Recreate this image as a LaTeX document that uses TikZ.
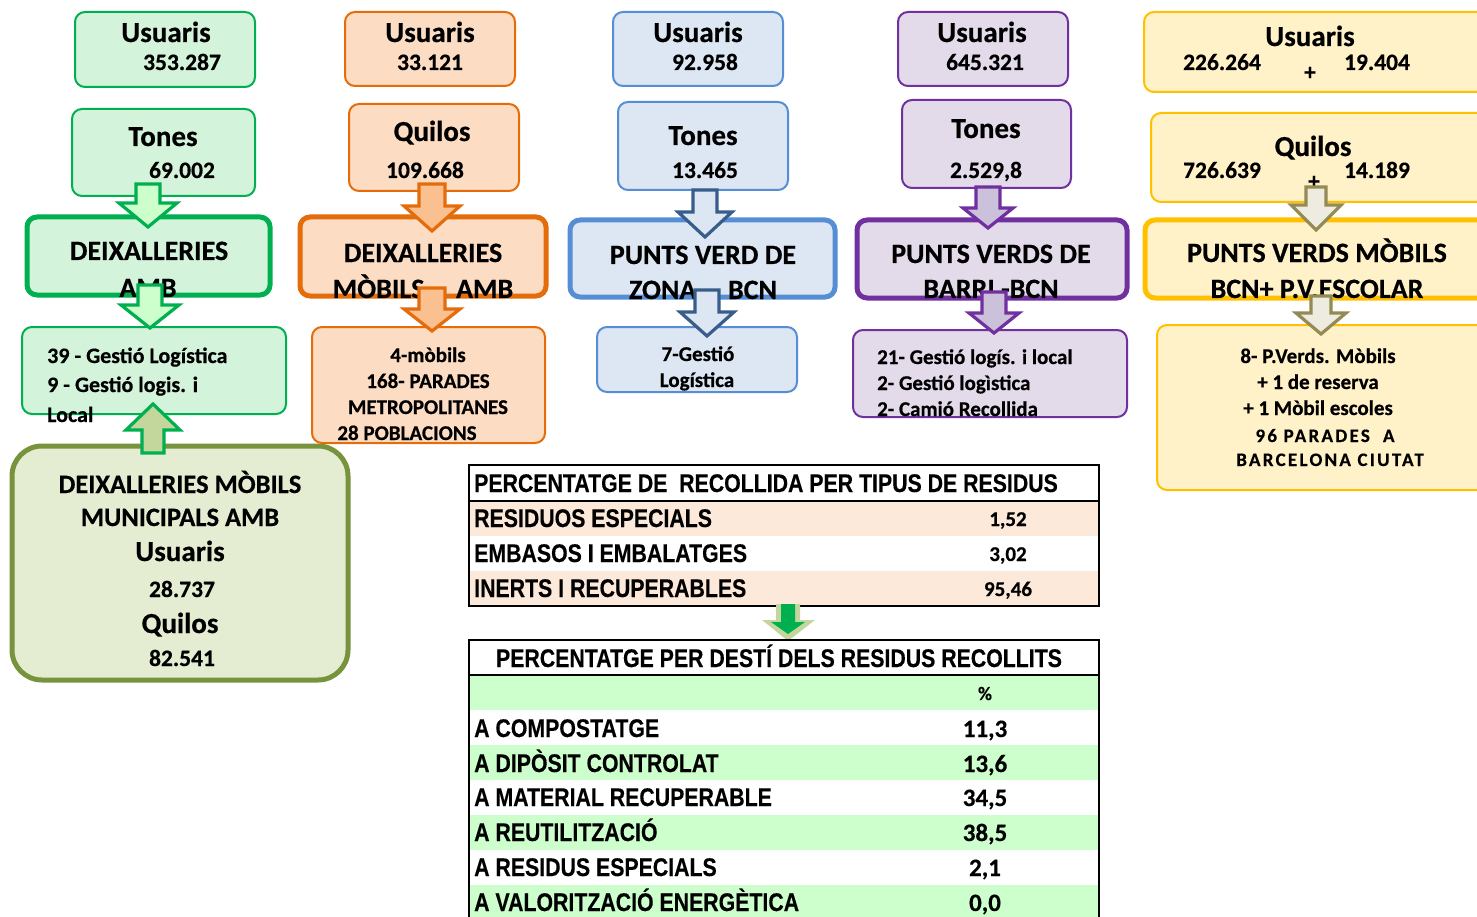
\documentclass[tikz,border=0pt]{standalone}
\usepackage{fontspec}
\setmainfont{Carlito}[BoldFeatures={FakeBold=0.5}]
\newfontfamily\narrowfont{Liberation Sans}[FakeStretch=0.835, BoldFeatures={FakeBold=0.3}]
\newfontfamily\spacedfont{Carlito}[LetterSpace=12, BoldFeatures={FakeBold=0.5}]
\usetikzlibrary{fit}
\newcommand\myfs[1]{\fontsize{#1}{#1}\selectfont}
% block arrow: cx, shaft end, head base, tip, shaft half, head half, fill, line
\newcommand\barrow[8]{\draw[line width=3.2pt, draw=#8, fill=#7, line join=miter]
  (#1-#5,#2) -- (#1+#5,#2) -- (#1+#5,#3) -- (#1+#6,#3) -- (#1,#4) -- (#1-#6,#3) -- (#1-#5,#3) -- cycle;}
\definecolor{gline}{HTML}{00B050}
\definecolor{gfill}{HTML}{D3F3DB}
\definecolor{garrow}{HTML}{CCFFCC}
\definecolor{oline}{HTML}{E46C0A}
\definecolor{ofill}{HTML}{FCDCC2}
\definecolor{oarrow}{HTML}{FAC090}
\definecolor{bline}{HTML}{558ED5}
\definecolor{bfill}{HTML}{DDE7F3}
\definecolor{barrowline}{HTML}{385D8A}
\definecolor{pline}{HTML}{7030A0}
\definecolor{pfill}{HTML}{E3DAEA}
\definecolor{parrow}{HTML}{CCC1DA}
\definecolor{yline}{HTML}{FFC000}
\definecolor{yfill}{HTML}{FFF1C8}
\definecolor{yarrowline}{HTML}{948A54}
\definecolor{yarrow}{HTML}{EEECE1}
\definecolor{vline}{HTML}{77933C}
\definecolor{vfill}{HTML}{E4EDD2}
\definecolor{varrow}{HTML}{C3D69B}
\definecolor{peach}{HTML}{FDE9D9}
\definecolor{rowgreen}{HTML}{CCFFCC}
\begin{document}
\begin{tikzpicture}[x=1pt,y=-1pt,
  box/.style={rounded corners=10pt, line width=2pt, inner sep=0pt},
  heavybox/.style={rounded corners=10pt, line width=5pt, inner sep=0pt},
  t/.style={inner sep=0pt, anchor=base, font=\bfseries\myfs{21}},
  title/.style={t, font=\bfseries\myfs{29}},
  num/.style={t, font=\bfseries\myfs{23.5}},
  big/.style={t, font=\bfseries\myfs{28}},
  tab/.style={inner sep=0pt, anchor=base west, font=\narrowfont\bfseries\myfs{25.5}},
  tnum/.style={inner sep=0pt, anchor=base, font=\bfseries\myfs{21}},
  tnumb/.style={inner sep=0pt, anchor=base, font=\bfseries\myfs{25}}]
\useasboundingbox (0,0) rectangle (1477,917);
\clip (0,0) rectangle (1477,917);

% ---------- column 1 (green) ----------
\node[box, draw=gline, fill=gfill, fit={(75,12) (255,87)}] (g1) {};
\node[box, draw=gline, fill=gfill, fit={(72,109) (255,196)}] (g2) {};
\node[heavybox, draw=gline, fill=gfill, fit={(27,217) (270,295)}] (g3) {};
\node[box, draw=gline, fill=gfill, fit={(22,327) (286,414)}] (g4) {};
\node[heavybox, rounded corners=30pt, draw=vline, fill=vfill, fit={(12,446) (348,680)}] (g5) {};
\node[title] (g1a) at (166,42) {Usuaris};
\node[num] (g1b) at (182,70) {353.287};
\node[title] (g2a) at (163,146) {Tones};
\node[num] (g2b) at (182,178) {69.002};
\node[big] (g3a) at (149,260) {DEIXALLERIES};
\node[big] (g3b) at (148,297) {AMB};
\node[t, anchor=base west, font=\bfseries\myfs{22}] (g4a) at (47,363) {39 - Gestió Logística};
\node[t, anchor=base west, font=\bfseries\myfs{22}] (g4b) at (47,392) {9 - Gestió logis. i};
\node[t, anchor=base west, font=\bfseries\myfs{22}] (g4c) at (47,422) {Local};
\node[t, font=\bfseries\myfs{26.5}] (g5a) at (180,493) {DEIXALLERIES MÒBILS};
\node[t, font=\bfseries\myfs{26.5}] (g5b) at (180,526) {MUNICIPALS AMB};
\node[title] (g5c) at (180,561) {Usuaris};
\node[num] (g5d) at (182,597) {28.737};
\node[title] (g5e) at (180,633) {Quilos};
\node[num] (g5f) at (182,666) {82.541};

% ---------- column 2 (orange) ----------
\node[box, draw=oline, fill=ofill, fit={(345,12) (515,86)}] (o1) {};
\node[box, draw=oline, fill=ofill, fit={(349,104) (519,191)}] (o2) {};
\node[heavybox, draw=oline, fill=ofill, fit={(300,217) (546,296)}] (o3) {};
\node[box, draw=oline, fill=ofill, fit={(312,327) (545,443)}] (o4) {};
\node[title] (o1a) at (430,42) {Usuaris};
\node[num] (o1b) at (430,70) {33.121};
\node[title] (o2a) at (432,141) {Quilos};
\node[num] (o2b) at (425,178) {109.668};
\node[big] (o3a) at (423,262) {DEIXALLERIES};
\node[big] (o3b) at (423,298) {MÒBILS\ \ \ \ \ AMB};
\node[t] (o4a) at (428,362) {4-mòbils};
\node[t] (o4b) at (428,388) {168- PARADES};
\node[t] (o4c) at (428,414) {METROPOLITANES};
\node[t] (o4d) at (407,440) {28 POBLACIONS};

% ---------- column 3 (blue) ----------
\node[box, draw=bline, fill=bfill, fit={(613,12) (783,86)}] (b1) {};
\node[box, draw=bline, fill=bfill, fit={(618,102) (788,190)}] (b2) {};
\node[heavybox, draw=bline, fill=bfill, fit={(570,220) (835,297)}] (b3) {};
\node[box, draw=bline, fill=bfill, fit={(597,327) (797,392)}] (b4) {};
\node[title] (b1a) at (698,42) {Usuaris};
\node[num] (b1b) at (705,70) {92.958};
\node[title] (b2a) at (703,145) {Tones};
\node[num] (b2b) at (705,178) {13.465};
\node[big] (b3a) at (703,264) {PUNTS VERD DE};
\node[big] (b3b) at (703,299) {ZONA\ \ \ \ \ BCN};
\node[t] (b4a) at (698,361) {7-Gestió};
\node[t] (b4b) at (697,387) {Logística};

% ---------- column 4 (purple) ----------
\node[box, draw=pline, fill=pfill, fit={(898,12) (1068,86)}] (p1) {};
\node[box, draw=pline, fill=pfill, fit={(902,100) (1071,188)}] (p2) {};
\node[heavybox, draw=pline, fill=pfill, fit={(857,220) (1127,298)}] (p3) {};
\node[box, draw=pline, fill=pfill, fit={(853,330) (1127,417)}] (p4) {};
\node[title] (p1a) at (982,42) {Usuaris};
\node[num] (p1b) at (985,70) {645.321};
\node[title] (p2a) at (986,138) {Tones};
\node[num] (p2b) at (986,178) {2.529,8};
\node[big] (p3a) at (991,263) {PUNTS VERDS DE};
\node[big] (p3b) at (991,298) {BARRI -BCN};
\node[t, anchor=base west] (p4a) at (877,364) {21- Gestió logís. i local};
\node[t, anchor=base west] (p4b) at (877,390) {2- Gestió logìstica};
\node[t, anchor=base west] (p4c) at (877,416) {2- Camió Recollida};

% ---------- column 5 (yellow) ----------
\node[box, draw=yline, fill=yfill, fit={(1144,12) (1510,92)}] (y1) {};
\node[box, draw=yline, fill=yfill, fit={(1151,113) (1510,202)}] (y2) {};
\node[heavybox, draw=yline, fill=yfill, fit={(1145,220) (1510,298)}] (y3) {};
\node[box, draw=yline, fill=yfill, fit={(1157,325) (1510,490)}] (y4) {};
\node[title] (y1a) at (1310,46) {Usuaris};
\node[num] (y1b) at (1222,70) {226.264};
\node[num] (y1c) at (1310,80) {+};
\node[num] (y1d) at (1377,70) {19.404};
\node[title] (y2a) at (1313,156) {Quilos};
\node[num] (y2b) at (1222,178) {726.639};
\node[num] (y2c) at (1314,189) {+};
\node[num] (y2d) at (1377,178) {14.189};
\node[big] (y3a) at (1317,262) {PUNTS VERDS MÒBILS};
\node[big] (y3b) at (1317,298) {BCN+ P.V.ESCOLAR};
\node[t] (y4a) at (1318,363) {8- P.Verds. Mòbils};
\node[t] (y4b) at (1318,389) {+ 1 de reserva};
\node[t] (y4c) at (1318,415) {+ 1 Mòbil escoles};
\node[t, font=\spacedfont\bfseries\myfs{19}] (y4d) at (1325,442) {96 PARADES\ \ A};
\node[t, font=\spacedfont\bfseries\myfs{19}] (y4e) at (1330,466) {BARCELONA CIUTAT};

% ---------- block arrows ----------
\barrow{148}{184}{203}{227}{12}{29}{garrow}{gline}
\barrow{150}{285}{305}{328}{12}{29}{garrow}{gline}
\barrow{153}{453}{430}{404}{11}{27}{varrow}{gline}
\barrow{432}{184}{206}{231}{13}{28}{oarrow}{oline}
\barrow{432}{288}{309}{331}{13}{28}{oarrow}{oline}
\barrow{705}{190}{212}{237}{12}{27}{bfill}{barrowline}
\barrow{707}{290}{312}{336}{12}{27}{bfill}{barrowline}
\barrow{988}{187}{208}{228}{12}{25}{parrow}{pline}
\barrow{994}{292}{313}{333}{12}{25}{parrow}{pline}
\barrow{1316}{187}{205}{230}{10}{25}{yarrow}{yarrowline}
\barrow{1321}{296}{313}{334}{10}{25}{yarrow}{yarrowline}

% ---------- table 1 ----------
\fill[peach] (469,501) rectangle (1099,536);
\fill[peach] (469,571) rectangle (1099,606);
\draw[line width=2pt] (469,501) -- (1099,501);
\node[draw, line width=2.5pt, inner sep=0pt, fit={(469,465) (1099,606)}] (t1) {};
\node[tab] (t1h) at (474,492) {PERCENTATGE DE\ \ RECOLLIDA PER TIPUS DE RESIDUS};
\node[tab] (t1r1) at (474,527) {RESIDUOS ESPECIALS};
\node[tab] (t1r2) at (474,562) {EMBASOS I EMBALATGES};
\node[tab] (t1r3) at (474,597) {INERTS I RECUPERABLES};
\node[tnum] (t1v1) at (1008,526) {1,52};
\node[tnum] (t1v2) at (1008,561) {3,02};
\node[tnum] (t1v3) at (1008,596) {95,46};

% ---------- arrow between tables ----------
\fill[varrow] (776,604) -- (800,604) -- (800,620) -- (815,620) -- (788,641) -- (762,620) -- (776,620) -- cycle;
\fill[gline] (781,604) -- (795,604) -- (795,622) -- (805,622) -- (788,634) -- (771,622) -- (781,622) -- cycle;

% ---------- table 2 ----------
\fill[rowgreen] (469,675) rectangle (1099,710);
\fill[rowgreen] (469,745) rectangle (1099,780);
\fill[rowgreen] (469,815) rectangle (1099,850);
\fill[rowgreen] (469,885) rectangle (1099,930);
\draw[line width=2pt] (469,675) -- (1099,675);
\node[draw, line width=2.5pt, inner sep=0pt, fit={(469,640) (1099,940)}] (t2) {};
\node[tab, anchor=base] (t2h) at (779,667) {PERCENTATGE PER DESTÍ DELS RESIDUS RECOLLITS};
\node[tnum, font=\bfseries\myfs{19}] (t2p) at (985,700) {\%};
\node[tab] (t2r1) at (474,737) {A COMPOSTATGE};
\node[tab] (t2r2) at (474,772) {A DIPÒSIT CONTROLAT};
\node[tab] (t2r3) at (474,806) {A MATERIAL RECUPERABLE};
\node[tab] (t2r4) at (474,841) {A REUTILITZACIÓ};
\node[tab] (t2r5) at (474,876) {A RESIDUS ESPECIALS};
\node[tab] (t2r6) at (474,911) {A VALORITZACIÓ ENERGÈTICA};
\node[tnumb] (t2v1) at (985,737) {11,3};
\node[tnumb] (t2v2) at (985,772) {13,6};
\node[tnumb] (t2v3) at (985,806) {34,5};
\node[tnumb] (t2v4) at (985,841) {38,5};
\node[tnumb] (t2v5) at (985,876) {2,1};
\node[tnumb] (t2v6) at (985,911) {0,0};
\end{tikzpicture}
\end{document}
